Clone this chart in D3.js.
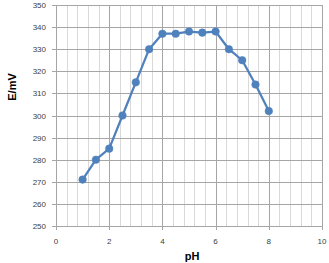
<!DOCTYPE html>
<html><head><meta charset="utf-8">
<script src="https://cdn.jsdelivr.net/npm/d3@7"></script>
<style>body{margin:0;background:#fff}svg{display:block}</style>
</head><body>
<svg id="c" width="329" height="263"></svg>
<script>
const pH = [1, 1.5, 2, 2.5, 3, 3.5, 4, 4.5, 5, 5.5, 6, 6.5, 7, 7.5, 8];
const E = [271, 280, 285, 300, 315, 330, 337, 337, 338, 337.5, 338, 330, 325, 314, 302];
const xTicks = [0, 2, 4, 6, 8, 10];
const yTicks = [250, 260, 270, 280, 290, 300, 310, 320, 330, 340, 350];
const xMinorStep = 0.4;

const svg = d3.select("#c");
const x = d3.scaleLinear().domain([0, 10]).range([56, 322]);
const y = d3.scaleLinear().domain([250, 350]).range([226, 5]);

// minor vertical grid
const minor = d3.range(0, 10.0001, xMinorStep).filter(v => Math.abs(v/2 - Math.round(v/2)) > 1e-6);
svg.append("g").selectAll("line").data(minor).join("line")
  .attr("x1", d => Math.round(x(d)) + 0.5).attr("x2", d => Math.round(x(d)) + 0.5)
  .attr("y1", y(350)).attr("y2", y(250))
  .attr("stroke", "#d9d9d9").attr("stroke-width", 1);
// major vertical grid
svg.append("g").selectAll("line").data(xTicks).join("line")
  .attr("x1", d => Math.round(x(d)) + 0.5).attr("x2", d => Math.round(x(d)) + 0.5)
  .attr("y1", y(350)).attr("y2", y(250) + 4)
  .attr("stroke", "#a6a6a6").attr("stroke-width", 1);
// horizontal grid
svg.append("g").selectAll("line").data(yTicks).join("line")
  .attr("x1", x(0) - 4).attr("x2", x(10))
  .attr("y1", d => Math.round(y(d)) + 0.5).attr("y2", d => Math.round(y(d)) + 0.5)
  .attr("stroke", "#a6a6a6").attr("stroke-width", 1);

// tick labels
svg.append("g").selectAll("text").data(yTicks).join("text")
  .attr("x", 46).attr("y", d => y(d) + 3)
  .attr("text-anchor", "end").attr("font-family", "Liberation Sans, Arial, sans-serif")
  .attr("font-size", 8).attr("fill", "#404040").text(d => d);
svg.append("g").selectAll("text").data(xTicks).join("text")
  .attr("x", d => x(d)).attr("y", 244)
  .attr("text-anchor", "middle").attr("font-family", "Liberation Sans, Arial, sans-serif")
  .attr("font-size", 8).attr("fill", "#404040").text(d => d);

// axis titles
svg.append("text").attr("transform", "translate(16,87) rotate(-90)")
  .attr("text-anchor", "middle").attr("font-family", "Liberation Sans, Arial, sans-serif")
  .attr("font-weight", "bold").attr("font-size", 11).attr("fill", "#000").text("E/mV");
svg.append("text").attr("x", 192).attr("y", 260)
  .attr("text-anchor", "middle").attr("font-family", "Liberation Sans, Arial, sans-serif")
  .attr("font-weight", "bold").attr("font-size", 11).attr("fill", "#000").text("pH");

// series
const pts = pH.map((v, i) => [v, E[i]]);
svg.append("path").datum(pts)
  .attr("d", d3.line().x(d => x(d[0])).y(d => y(d[1])))
  .attr("fill", "none").attr("stroke", "#4f81bd").attr("stroke-width", 2.25).attr("stroke-linejoin", "round");
svg.append("g").selectAll("circle").data(pts).join("circle")
  .attr("cx", d => x(d[0])).attr("cy", d => y(d[1])).attr("r", 3.8)
  .attr("fill", "#4f81bd").attr("stroke", "#4f81bd").attr("stroke-width", 0.5);
</script>
</body></html>
